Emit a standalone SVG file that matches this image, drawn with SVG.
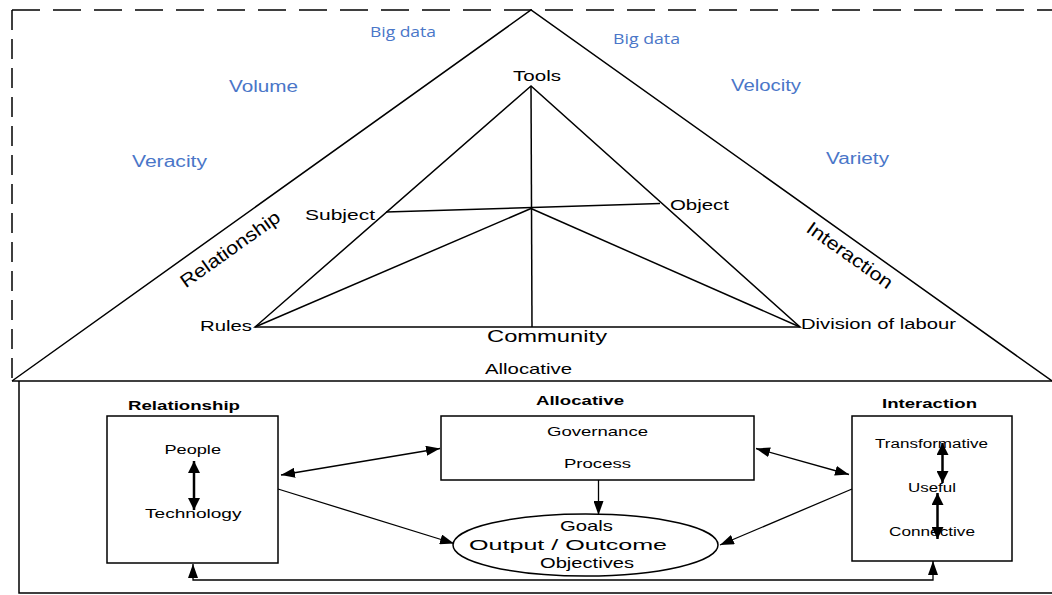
<svg xmlns="http://www.w3.org/2000/svg" width="1052" height="595" viewBox="0 0 1052 595">
<style>
.ln{stroke:#000;stroke-width:1.5;fill:none}
.cn{stroke:#000;stroke-width:1.3;fill:none}
.bx{stroke:#000;stroke-width:1.5;fill:#fff}
.bl{font-family:"Open Sans","Noto Sans",sans-serif;fill:#4a76c8}
.bv{font-family:"Liberation Sans",Arial,sans-serif;fill:#4a76c8;font-size:16px}
.t{font-family:"Liberation Sans",Arial,sans-serif;fill:#000}
.b{font-weight:bold}
</style>
<defs>
<marker id="ah" viewBox="0 0 14 10" refX="14" refY="5" markerWidth="14" markerHeight="10" markerUnits="userSpaceOnUse" orient="auto-start-reverse"><path d="M0,0 L14,5 L0,10 z" fill="#000"/></marker>
<marker id="ahb" viewBox="0 0 12 12" refX="12" refY="6" markerWidth="12" markerHeight="12" markerUnits="userSpaceOnUse" orient="auto-start-reverse"><path d="M0,0 L12,6 L0,12 z" fill="#000"/></marker>
</defs>
<rect width="1052" height="595" fill="#fff"/>

<g id="frame">
<line x1="12" y1="10" x2="1052" y2="10" class="ln" stroke-dasharray="28 13"/>
<line x1="12" y1="10" x2="12" y2="381" class="ln" stroke-dasharray="20 9"/>
<line x1="12" y1="381" x2="1052" y2="381" class="ln"/>
<polyline points="19,381 19,593 1052,593" class="ln"/>
</g>

<g id="outer-triangle">
<polyline points="12,381 531,10 1052,381" class="ln"/>
<text class="t" font-size="18.5" transform="translate(230,249) rotate(-35.5)" x="0" y="6.5" text-anchor="middle" textLength="118" lengthAdjust="spacingAndGlyphs">Relationship</text>
<text class="t" font-size="18.5" transform="translate(850,255) rotate(35.5)" x="0" y="6.5" text-anchor="middle" textLength="101" lengthAdjust="spacingAndGlyphs">Interaction</text>
<text class="t" font-size="15" x="485" y="374" textLength="87" lengthAdjust="spacingAndGlyphs">Allocative</text>
</g>

<g id="bigdata-labels">
<text class="bl" font-size="14" x="370" y="36.5" textLength="66" lengthAdjust="spacingAndGlyphs">Big data</text>
<text class="bl" font-size="14" x="613" y="44" textLength="67" lengthAdjust="spacingAndGlyphs">Big data</text>
<text class="bv" x="229" y="92" textLength="69" lengthAdjust="spacingAndGlyphs">Volume</text>
<text class="bv" x="132" y="167" textLength="75" lengthAdjust="spacingAndGlyphs">Veracity</text>
<text class="bv" x="731" y="91" textLength="70" lengthAdjust="spacingAndGlyphs">Velocity</text>
<text class="bv" x="826" y="164" textLength="63" lengthAdjust="spacingAndGlyphs">Variety</text>
</g>

<g id="activity-triangle">
<polygon points="531,86 255,327 800,327" class="ln"/>
<line x1="531" y1="86" x2="532" y2="327" class="ln"/>
<line x1="386" y1="212" x2="660" y2="203.5" class="ln"/>
<line x1="255" y1="327" x2="531" y2="208.5" class="ln"/>
<line x1="531" y1="208.5" x2="800" y2="327" class="ln"/>
<text class="t" font-size="15.5" x="513" y="81" textLength="48" lengthAdjust="spacingAndGlyphs">Tools</text>
<text class="t" font-size="15.5" x="305" y="220" textLength="70" lengthAdjust="spacingAndGlyphs">Subject</text>
<text class="t" font-size="15.5" x="670" y="210" textLength="59" lengthAdjust="spacingAndGlyphs">Object</text>
<text class="t" font-size="15.5" x="200" y="331" textLength="52" lengthAdjust="spacingAndGlyphs">Rules</text>
<text class="t" font-size="15.5" x="801" y="329" textLength="155" lengthAdjust="spacingAndGlyphs">Division of labour</text>
<text class="t" font-size="17" x="487" y="342" textLength="120" lengthAdjust="spacingAndGlyphs">Community</text>
</g>

<g id="relationship-box">
<text class="t b" font-size="12.5" x="128" y="410" textLength="112" lengthAdjust="spacingAndGlyphs">Relationship</text>
<rect x="107" y="416" width="171" height="147" class="bx"/>
<text class="t" font-size="13" x="164.5" y="453.5" textLength="56.5" lengthAdjust="spacingAndGlyphs">People</text>
<text class="t" font-size="13" x="145" y="518" textLength="96.5" lengthAdjust="spacingAndGlyphs">Technology</text>
<line x1="194" y1="461" x2="194" y2="510" stroke="#000" stroke-width="2.5" marker-start="url(#ahb)" marker-end="url(#ahb)"/>
</g>

<g id="allocative-box">
<text class="t b" font-size="12.5" x="536" y="405" textLength="88" lengthAdjust="spacingAndGlyphs">Allocative</text>
<rect x="441" y="416" width="313" height="64" class="bx"/>
<text class="t" font-size="13" x="547" y="436" textLength="101" lengthAdjust="spacingAndGlyphs">Governance</text>
<text class="t" font-size="13" x="564" y="468" textLength="67" lengthAdjust="spacingAndGlyphs">Process</text>
</g>

<g id="interaction-box">
<text class="t b" font-size="12.5" x="882" y="408" textLength="95" lengthAdjust="spacingAndGlyphs">Interaction</text>
<rect x="852" y="416" width="160" height="145" class="bx"/>
<text class="t" font-size="12.5" x="875" y="448" textLength="113" lengthAdjust="spacingAndGlyphs">Transformative</text>
<text class="t" font-size="12.5" x="908" y="492" textLength="48" lengthAdjust="spacingAndGlyphs">Useful</text>
<text class="t" font-size="12.5" x="889" y="536" textLength="86" lengthAdjust="spacingAndGlyphs">Connective</text>
<line x1="942.5" y1="443" x2="942.5" y2="483" stroke="#000" stroke-width="2.5" marker-start="url(#ahb)" marker-end="url(#ahb)"/>
<line x1="937.5" y1="493" x2="937.5" y2="539" stroke="#000" stroke-width="2.5" marker-start="url(#ahb)" marker-end="url(#ahb)"/>
</g>

<g id="goals-ellipse">
<ellipse cx="585.5" cy="545" rx="132.5" ry="31" class="bx"/>
<text class="t" font-size="15" x="560" y="531" textLength="53" lengthAdjust="spacingAndGlyphs">Goals</text>
<text class="t" font-size="15" x="469" y="550" textLength="198" lengthAdjust="spacingAndGlyphs">Output / Outcome</text>
<text class="t" font-size="15" x="540" y="568" textLength="94" lengthAdjust="spacingAndGlyphs">Objectives</text>
</g>

<g id="connectors">
<line x1="281" y1="475" x2="440" y2="448.5" class="cn" marker-start="url(#ah)" marker-end="url(#ah)"/>
<line x1="278" y1="489" x2="454" y2="543.5" class="cn" marker-end="url(#ah)"/>
<line x1="756" y1="448.5" x2="849" y2="474.5" class="cn" marker-start="url(#ah)" marker-end="url(#ah)"/>
<line x1="852" y1="489" x2="720" y2="545" class="cn" marker-end="url(#ah)"/>
<line x1="598.5" y1="480" x2="598.5" y2="515" class="cn" stroke-width="1.5" marker-end="url(#ah)"/>
<polyline points="193,564 193,580 933,580 933,561" class="cn" stroke="#333" stroke-width="1.5" marker-start="url(#ah)" marker-end="url(#ah)"/>
</g>
</svg>
